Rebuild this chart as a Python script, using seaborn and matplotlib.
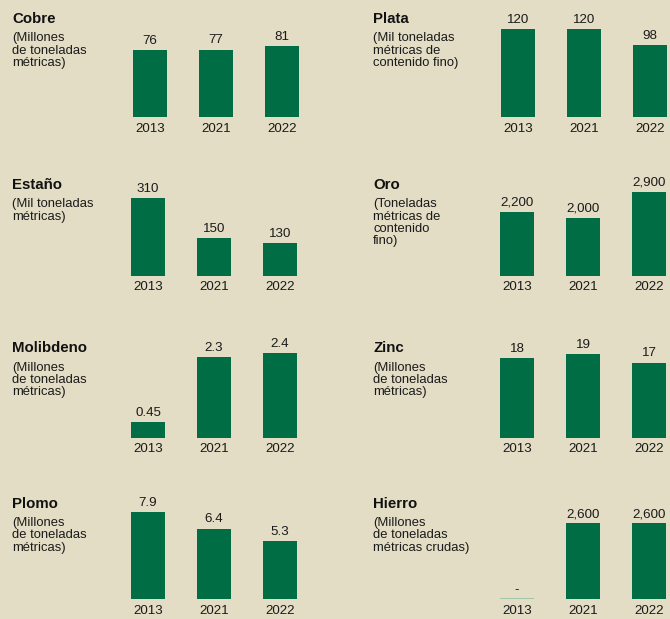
import matplotlib
matplotlib.use("Agg")
import matplotlib.pyplot as plt
import seaborn as sns
import pandas as pd

sns.set_theme(style="white")
plt.rcParams['font.family'] = ['Liberation Sans', 'DejaVu Sans']

# ---- data ----
years = ["2013", "2021", "2022"]
titles = ["Cobre", "Plata", "Estaño", "Oro", "Molibdeno", "Zinc", "Plomo", "Hierro"]
units = [
    "(Millones\nde toneladas\nmétricas)",
    "(Mil toneladas\nmétricas de\ncontenido fino)",
    "(Mil toneladas\nmétricas)",
    "(Toneladas\nmétricas de\ncontenido\nfino)",
    "(Millones\nde toneladas\nmétricas)",
    "(Millones\nde toneladas\nmétricas)",
    "(Millones\nde toneladas\nmétricas)",
    "(Millones\nde toneladas\nmétricas crudas)",
]
cobre = [76, 77, 81]
plata = [120, 120, 98]
estano = [310, 150, 130]
oro = [2200, 2000, 2900]
molibdeno = [0.45, 2.3, 2.4]
zinc = [18, 19, 17]
plomo = [7.9, 6.4, 5.3]
hierro = [0, 2600, 2600]
series = [cobre, plata, estano, oro, molibdeno, zinc, plomo, hierro]

# ---- layout (pixels) ----
W, H = 670, 619
BG = "#e4ddc5"
GREEN = "#006d44"
ZERO_LINE = "#93c4a3"
first_center = [150, 518, 148, 517, 148, 517, 148, 517]
bar_bottom = [117, 117, 275.5, 275.5, 437.5, 437.5, 599, 599]
max_bar_px = [71, 88, 77.7, 84, 84.3, 83.7, 87, 75.7]
title_base = [22.7, 22.7, 188.8, 188.8, 352, 352, 507.7, 507.7]
text_x = [12, 373] * 4
SPACING = 66
BAR_W = 34
AX_H = 100

fig = plt.figure(figsize=(W / 100, H / 100), dpi=100, facecolor=BG)


def fmt(v):
    if v == 0:
        return "-"
    if float(v).is_integer():
        return f"{int(v):,}"
    return f"{v:g}"


for i, (title, unit, vals) in enumerate(zip(titles, units, series)):
    left = first_center[i] - SPACING / 2
    ax = fig.add_axes([left / W, (H - bar_bottom[i]) / H, 3 * SPACING / W, AX_H / H])
    ax.set_facecolor("none")
    df = pd.DataFrame({"year": years, "value": vals})
    sns.barplot(data=df, x="year", y="value", order=years, ax=ax, color=GREEN,
                saturation=1, width=BAR_W / SPACING, linewidth=0)
    ymax = max(vals) * AX_H / max_bar_px[i]
    ax.set_ylim(0, ymax)
    ax.set_xlim(-0.5, 2.5)
    for p, v in zip(ax.patches, vals):
        if v == 0:
            p.set_edgecolor(ZERO_LINE)
            p.set_linewidth(1.2)
    for x, v in enumerate(vals):
        ax.annotate(fmt(v), (x, v), xytext=(0, 4.4), textcoords="offset points",
                    ha="center", va="baseline", fontsize=9.6, color="#1a1a1a")
    ax.set_xlabel("")
    ax.set_ylabel("")
    ax.set_yticks([])
    ax.tick_params(axis="x", length=0, pad=4.2, labelsize=9.6, labelcolor="#1a1a1a")
    for s in ax.spines.values():
        s.set_visible(False)
    ax.patch.set_visible(False)

    fig.text(text_x[i] / W, 1 - title_base[i] / H, title, fontsize=10.8,
             fontweight="bold", ha="left", va="baseline", color="#111111")
    for j, line in enumerate(unit.split("\n")):
        yb = title_base[i] + 18.5 + 12.3 * j
        fig.text(text_x[i] / W, 1 - yb / H, line, fontsize=9.4,
                 ha="left", va="baseline", color="#1a1a1a")

fig.savefig("out.png", dpi=100, facecolor=BG)
